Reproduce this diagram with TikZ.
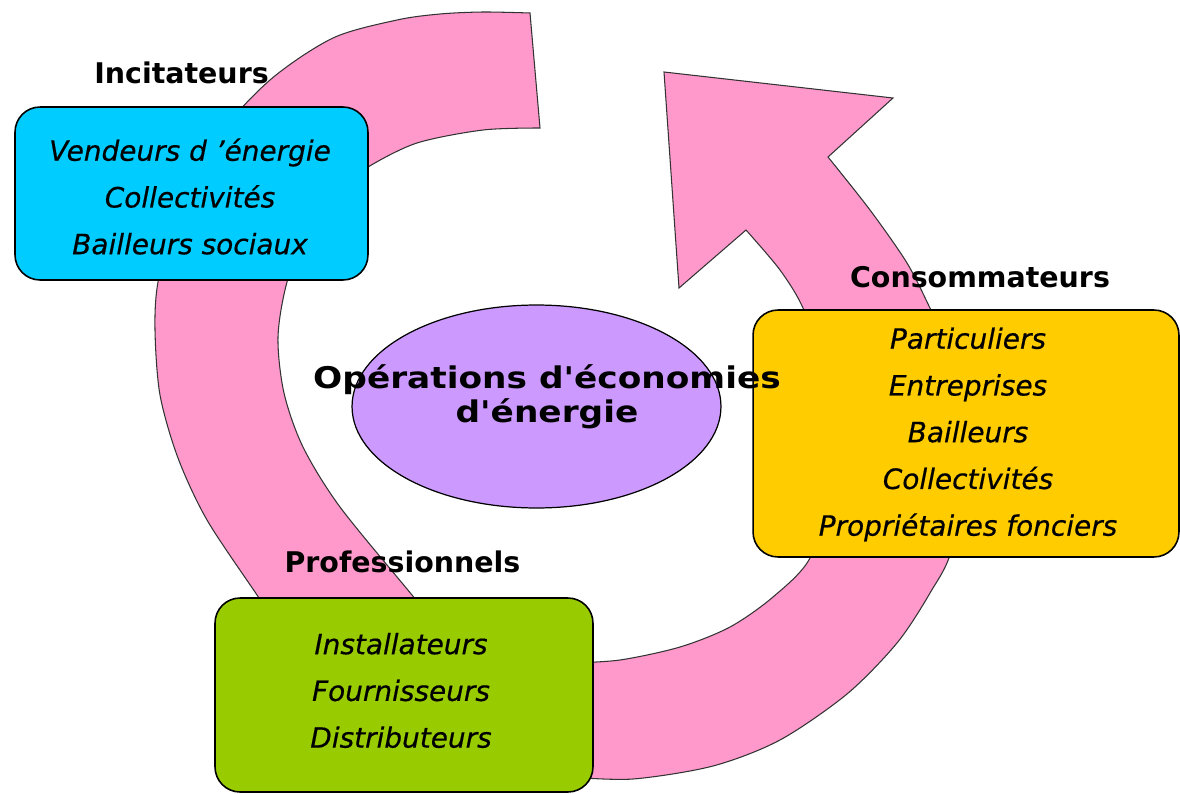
\documentclass[tikz,border=0pt]{standalone}
\usepackage{fontspec}
\setmainfont{DejaVu Sans}
\newfontfamily\ctrfont[FakeStretch=1.15]{DejaVu Sans}
\newfontfamily\itemfont[FakeBold=0.5]{DejaVu Sans}
\usetikzlibrary{shapes.geometric}
\definecolor{pinkarc}{HTML}{FF99CC}
\definecolor{cyanbox}{HTML}{00CCFF}
\definecolor{yelbox}{HTML}{FFCC00}
\definecolor{grnbox}{HTML}{99CC00}
\definecolor{purell}{HTML}{CC99FF}
\begin{document}
\begin{tikzpicture}[x=0.02cm,y=-0.02cm,
  bigarrow/.style={fill=pinkarc,draw=black!80,line width=0.6pt},
  itembox/.style={draw=black,line width=0.9pt,rounded corners=0.5cm,inner sep=0pt},
  itemtext/.style={align=center,inner sep=0pt,font=\itemfont\fontsize{15.9}{26.6}\selectfont\itshape},
  grouplabel/.style={font=\fontsize{16.2}{19}\selectfont\bfseries,inner sep=0pt},
  centerell/.style={ellipse,draw=black,line width=0.7pt,fill=purell,inner sep=0pt},
  centertext/.style={font=\ctrfont\bfseries\fontsize{17}{19.3}\selectfont,align=center,inner sep=0pt}
]
\useasboundingbox (0,0) rectangle (1180,794);

% left arc (no head)
\draw[bigarrow]
  plot[smooth,tension=0.5] coordinates {(530,13) (483,12) (440,14) (397,20) (333,38) (270,80) (215,140) (175,215) (158,282) (155,330) (160,395) (178,458) (207,520) (257,595) (270,615)}
  -- plot[smooth,tension=0.5] coordinates {(428,615) (412,595) (340,507) (303,447) (284,393) (278,337) (287,282) (308,228) (335,192) (368,167) (417,143) (483,130) (540,128)}
  -- cycle;

% right arc with arrow head
\draw[bigarrow]
  plot[smooth,tension=0.5] coordinates {(570,777) (633,779) (713,766) (780,740) (847,694) (897,643) (930,593) (952,548) (965,450) (950,350) (930,308) (907,263) (870,210) (828,157)}
  -- (893,98) -- (664,72) -- (679,288)
  -- plot[smooth,tension=0.5] coordinates {(746,230) (780,270) (803,308) (822,365) (832,435) (828,490) (810,558) (773,597) (730,627) (680,647) (620,660) (570,663)}
  -- cycle;

% centre ellipse
\node[centerell,minimum width=7.38cm,minimum height=4.06cm] (ops) at (536.5,406.5) {};

% boxes
\node[itembox,fill=cyanbox,minimum width=7.06cm,minimum height=3.46cm] (incitbox) at (191.5,193.5) {};
\node[itemtext] (incittext) at (190,196.5) {Vendeurs d ’énergie\\Collectivités\\Bailleurs sociaux};
\node[itembox,fill=yelbox,minimum width=8.52cm,minimum height=4.94cm] (consobox) at (966,433.5) {};
\node[itemtext] (consotext) at (968,434.5) {Particuliers\\Entreprises\\Bailleurs\\Collectivités\\Propriétaires fonciers};
\node[itembox,fill=grnbox,minimum width=7.56cm,minimum height=3.88cm] (probox) at (404,695) {};
\node[itemtext] (protext) at (401,690.5) {Installateurs\\Fournisseurs\\Distributeurs};

% centre text (on top of the yellow box)
\node[centertext] (opstext) at (547,397) {Opérations d'économies\\d'énergie};

% labels
\node[grouplabel] (incit) at (181.5,73) {Incitateurs};
\node[grouplabel] (conso) at (980,277.5) {Consommateurs};
\node[grouplabel] (pro) at (402.5,562) {Professionnels};
\end{tikzpicture}
\end{document}
